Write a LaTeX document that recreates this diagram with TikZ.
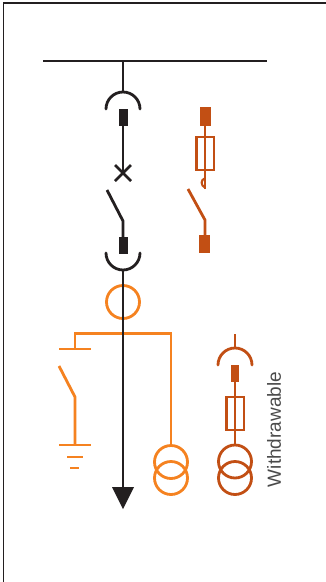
\documentclass[tikz,border=0pt]{standalone}
\usepackage{fontspec}
\setmainfont{Liberation Sans}
\definecolor{ink}{HTML}{231F20}
\definecolor{lightor}{HTML}{F58220}
\definecolor{darkor}{HTML}{C24F14}
\definecolor{txt}{HTML}{4A4A4A}
\tikzset{
  frameline/.style={draw=ink,line width=1.6pt},
  wire/.style={line width=2.8pt},
  blackwire/.style={wire,draw=ink},
  orangewire/.style={wire,draw=lightor},
  redwire/.style={wire,draw=darkor},
  blackplug/.style={fill=ink,draw=none},
  redplug/.style={fill=darkor,draw=none},
}
\begin{document}
\begin{tikzpicture}[x=1pt,y=-1pt]
\useasboundingbox (0,0) rectangle (326,582);
\fill[white] (0,0) rectangle (326,582);
% frame
\draw[frameline] (326,3) -- (3.5,3) -- (3.5,582);
% main black line
\draw[blackwire] (43,61) -- (267,61);
\draw[blackwire] (123,61) -- (123,92);
\draw[blackwire,line cap=round] (106,109) arc[start angle=180,end angle=360,radius=17];
\fill[blackplug] (118.5,109) rectangle (127.5,126);
\draw[blackwire] (123,126) -- (123,173);
\draw[blackwire] (115,165) -- (131,181) (131,165) -- (115,181);
\draw[blackwire] (107,190) -- (123,221) -- (123,237);
\fill[blackplug] (118.5,237) rectangle (127.5,253.5);
\draw[blackwire,line cap=round] (106,253) arc[start angle=180,end angle=0,radius=17];
% orange group
\draw[orangewire] (75,349) -- (75,333.5) -- (171,333.5) -- (171,445.5);
\draw[orangewire] (59,349) -- (91,349);
\draw[orangewire] (59,366) -- (75,397) -- (75,445);
\draw[orangewire] (59,445) -- (91,445);
\draw[orangewire] (67,457) -- (83,457);
\draw[orangewire] (70,468) -- (79,468);
\draw[orangewire] (123,302) circle[radius=16.5];
\draw[orangewire] (171,462) circle[radius=16.5];
\draw[orangewire] (171,478) circle[radius=16.5];
% black feeder over the orange
\draw[blackwire] (123,270) -- (123,490);
\fill[ink] (112,487) -- (134,487) -- (123,509) -- cycle;
% withdrawable fuse-switch
\fill[redplug] (199.5,107) rectangle (210.5,126);
\draw[redwire] (205,126) -- (205,137);
\draw[redwire] (196.5,137) rectangle (214,170);
\draw[redwire] (205,137) -- (205,189);
\fill[darkor] (205,177) .. controls (199,179) and (199,186) .. (205,189) -- (205,186) .. controls (202,185) and (202,181) .. (205,179) -- cycle;
\draw[redwire] (188,189) -- (205,220) -- (205,235);
\fill[redplug] (199,235) rectangle (210,253);
% withdrawable VT
\draw[redwire] (235,334) -- (235,349);
\draw[redwire,line cap=round] (218,365) arc[start angle=180,end angle=360,radius=17];
\fill[redplug] (230.5,365) rectangle (239,382);
\draw[redwire] (235,382) -- (235,397);
\draw[redwire] (226.5,397) rectangle (244,430);
\draw[redwire] (235,397) -- (235,430);
\draw[redwire] (235,430) -- (235,445);
\draw[redwire] (235,461.5) circle[radius=16.5];
\draw[redwire] (235,478) circle[radius=16.5];
\node[rotate=90,text=txt,font=\fontsize{19}{20}\selectfont,inner sep=0pt] (lbl) at (274,429.5) {Withdrawable};
\end{tikzpicture}
\end{document}
